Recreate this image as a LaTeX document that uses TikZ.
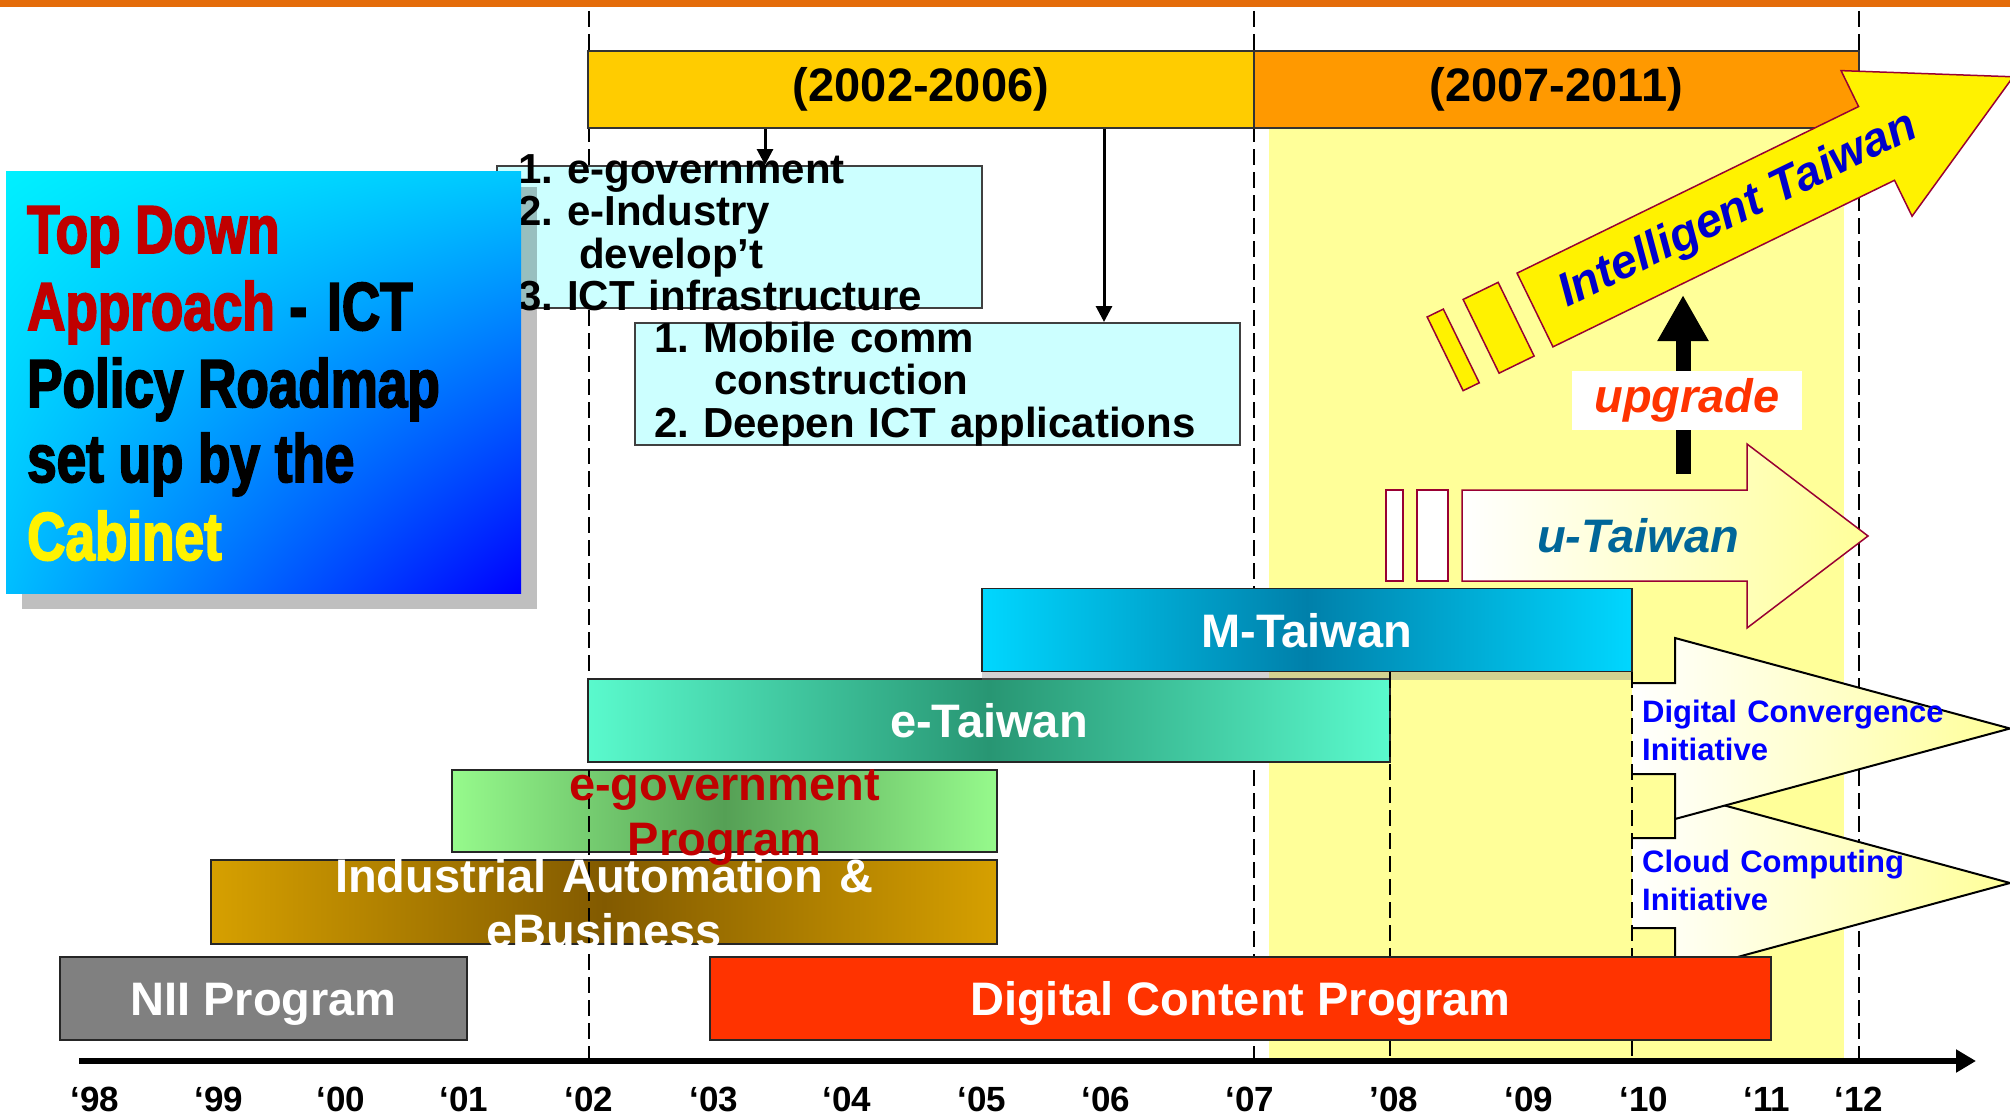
\documentclass[tikz,border=0pt]{standalone}
\usepackage{fontspec}
\setmainfont{Liberation Sans}
\newfontfamily\headfont[FakeStretch=0.78,BoldFeatures={FakeBold=2.5}]{Liberation Sans}
\usepackage{tikz}
\usetikzlibrary{calc,positioning,shapes,arrows.meta,shadows,shadings}

\definecolor{topbar}{RGB}{228,108,10}
\definecolor{paleyel}{RGB}{255,255,153}
\definecolor{goldbar}{RGB}{255,204,0}
\definecolor{orngbar}{RGB}{255,153,0}
\definecolor{boxcyan}{RGB}{204,255,255}
\definecolor{dred}{RGB}{192,0,0}
\definecolor{wine}{RGB}{153,0,51}
\definecolor{mcyan}{RGB}{0,215,255}
\definecolor{mdark}{RGB}{0,128,170}
\definecolor{eaqua}{RGB}{90,250,205}
\definecolor{edark}{RGB}{40,150,115}
\definecolor{glight}{RGB}{150,250,140}
\definecolor{gdark}{RGB}{85,160,85}
\definecolor{ochre}{RGB}{214,160,0}
\definecolor{iabrown}{RGB}{130,90,0}
\definecolor{dcred}{RGB}{255,51,0}
\definecolor{utblue}{RGB}{0,102,153}
\definecolor{itblue}{RGB}{0,0,204}
\definecolor{tlcyan}{RGB}{0,240,255}
\definecolor{trcyan}{RGB}{0,200,255}
\definecolor{blcyan}{RGB}{0,190,255}
\definecolor{brblue}{RGB}{0,0,255}

\tikzset{
  period/.style={draw=black!80, line width=1.2pt, inner sep=0pt, minimum height=77pt,
    font=\fontsize{47}{54}\selectfont\bfseries},
  listbox/.style={draw=black!75, line width=2pt, fill=boxcyan, inner sep=0pt},
  listtxt/.style={inner sep=0pt, anchor=base west, align=left, text width=600pt,
    font=\fontsize{42}{42.5}\selectfont\bfseries\frenchspacing},
  bar/.style={draw=black!85, line width=1.5pt, inner sep=0pt, minimum height=83pt,
    text=white, text height=34pt, text depth=0pt, font=\fontsize{47}{50}\selectfont\bfseries},
  bartxt/.style={inner sep=0pt, anchor=base, align=center, text width=700pt,
    font=\fontsize{47}{55}\selectfont\bfseries},
  heavy/.style={inner sep=0pt, anchor=base west, font=\headfont\fontsize{68}{77}\selectfont\bfseries},
  initxt/.style={inner sep=0pt, anchor=base west, align=left, text width=400pt, text=blue,
    font=\fontsize{31}{38}\selectfont\bfseries},
  yr/.style={inner sep=0pt, anchor=base, font=\fontsize{35}{40}\selectfont\bfseries},
  vline/.style={black, line width=1.6pt, dash pattern=on 16pt off 7pt},
  feed/.style={line width=3pt, -{Triangle[width=16pt,length=16pt]}},
  slant/.style={font=\fontsize{47}{50}\selectfont\bfseries\itshape, inner sep=0pt},
}

\begin{document}
\begin{tikzpicture}[x=1pt,y=-1pt]
  \fill[white] (0,0) rectangle (2010,1116);
  \useasboundingbox (0,0) rectangle (2010,1116);
  \fill[topbar] (0,0) rectangle (2010,7);
  \fill[paleyel] (1269,128) rectangle (1844,1061);

  \node[bar, left color=glight, right color=glight, middle color=gdark, minimum width=545pt, minimum height=82pt] (egp) at (724.5,811) {};
  \node[bar, left color=ochre, right color=ochre, middle color=iabrown, minimum width=786pt, minimum height=84pt] (iae) at (604,902) {};

  \coordinate (v02) at (589,11);
  \coordinate (v07) at (1254,11);
  \coordinate (v12) at (1859,11);
  \coordinate (axL) at (79,1061);
  \coordinate (axR) at (1976,1061);
  \foreach \v in {v02,v07,v12}
    \draw[vline] (\v) -- (\v |- axL);

  \node[period, fill=goldbar, minimum width=666pt] (pA) at (921,89.5) {(2002-2006)};
  \node[period, fill=orngbar, minimum width=605pt] (pB) at (1556.5,89.5) {(2007-2011)};

  \node[listbox, minimum width=485pt, minimum height=142pt] (boxA) at (739.5,237) {};
  \node[listtxt] (boxAtxt) at (518,183) {1. e-government\\2. e-Industry\\\hspace*{61pt}develop’t\\3. ICT infrastructure};
  \node[listbox, minimum width=605pt, minimum height=122pt] (boxB) at (937.5,384) {};
  \node[listtxt] (boxBtxt) at (654,352) {1. Mobile comm\\\hspace*{60pt}construction\\2. Deepen ICT applications};
  \coordinate (fA) at (765,0);
  \coordinate (fB) at (1104,0);
  \draw[feed] (fA |- pA.south) -- (fA |- boxA.north);
  \draw[feed] (fB |- pA.south) -- (fB |- boxB.north);

  \fill[black, opacity=.25] (22,187) rectangle (537,609);
  \shade[upper left=tlcyan, upper right=trcyan, lower left=blcyan, lower right=brblue] (6,171) rectangle (521,593);
  \node[heavy, text=dred] (hdA) at (27,253) {Top Down};
  \node[heavy] (hdB) at (27,330) {\textcolor{dred}{Approach}\ -\hspace{20pt}ICT};
  \node[heavy] (hdC) at (27,407) {Policy Roadmap};
  \node[heavy] (hdD) at (27,482) {set up by the};
  \node[heavy, text=yellow] (hdE) at (27,560) {Cabinet};

  \node[bar, left color=eaqua, right color=eaqua, middle color=edark, minimum width=802pt] (eTw) at (989,720.5) {e-Taiwan};
  \node[bar, left color=mcyan, right color=mcyan, middle color=mdark, minimum width=650pt,
    drop shadow={opacity=.35, shadow xshift=0pt, shadow yshift=-8pt}] (mTw) at (1307,630) {M-Taiwan};
  \node[bartxt, text=dred] (egptxt) at (724.5,800) {e-government\\Program};
  \node[bartxt, text=white] (iaetxt) at (604,892) {Industrial Automation \&\\eBusiness};

  \filldraw[fill=white, draw=wine, line width=1.5pt] (1386,490) rectangle (1403,581);
  \filldraw[fill=white, draw=wine, line width=1.5pt] (1417,490) rectangle (1448,581);
  \shadedraw[left color=white, right color=paleyel, draw=wine, line width=1.5pt]
    (1462,490) -- (1747,490) -- (1747,444) -- (1868,536) -- (1747,628) -- (1747,581) -- (1462,581) -- cycle;
  \node[slant, text=utblue] (uTw) at (1638,536) {u-Taiwan};

  \coordinate (upS) at (1683,474);
  \coordinate (upE) at (1683,295);
  \draw[line width=15pt, -{Triangle[width=48pt,length=46pt]}] (upS) -- (upE);

  \begin{scope}[shift={(1535,310)}, rotate=26]
    \filldraw[fill=yellow, draw=wine, line width=1.5pt] (-100,-41) -- (-82,-41) -- (-82,41) -- (-100,41) -- cycle;
    \filldraw[fill=yellow, draw=wine, line width=1.5pt] (-60,-41) -- (-21,-41) -- (-21,41) -- (-60,41) -- cycle;
    \filldraw[fill=yellow, draw=wine, line width=1.5pt]
      (0,-41) -- (380,-41) -- (380,-81) -- (532,0) -- (380,81) -- (380,41) -- (0,41) -- cycle;
    \node[slant, text=itblue, rotate=26] (inTw) at (226,0) {Intelligent Taiwan};
  \end{scope}
  \node[slant, fill=white, minimum width=230pt, minimum height=59pt, text=dcred] (upg) at (1687,400) {upgrade};

  \shade[left color=white, right color=paleyel]
    (1632,838) -- (1675,838) -- (1675,792) -- (2010,883) -- (1675,974) -- (1675,928) -- (1632,928) -- cycle;
  \draw[line width=2pt] (1632,838) -- (1675,838) -- (1675,792) -- (2010,883) -- (1675,974) -- (1675,928) -- (1632,928);
  \shade[left color=white, right color=paleyel]
    (1632,683) -- (1675,683) -- (1675,638) -- (2010,728.5) -- (1675,819) -- (1675,774) -- (1632,774) -- cycle;
  \draw[line width=2pt] (1632,683) -- (1675,683) -- (1675,638) -- (2010,728.5) -- (1675,819) -- (1675,774) -- (1632,774);
  \node[initxt] (dci) at (1642,722) {Digital Convergence\\Initiative};
  \node[initxt] (cci) at (1642,872) {Cloud Computing\\Initiative};

  \coordinate (v08) at (1390,672);
  \coordinate (v10) at (1632,672);
  \foreach \v in {v08,v10}
    \draw[vline] (\v) -- (\v |- axL);

  \node[bar, fill=gray, minimum width=407pt] (nii) at (263.5,998.5) {NII Program};
  \node[bar, fill=dcred, minimum width=1061pt] (dcp) at (1240.5,998.5) {Digital Content Program};

  \draw[line width=6pt, -{Triangle[width=22pt,length=20pt]}] (axL) -- (axR);
  \foreach \xx/\lab [count=\i] in {95/‘98,219/‘99,341/‘00,464/‘01,589/‘02,714/‘03,847/‘04,982/‘05,
      1106/‘06,1250/‘07,1394/’08,1529/‘09,1644/‘10,1767/‘11,1859/‘12}
    \node[yr] (yr\i) at (\xx,1111) {\lab};
\end{tikzpicture}
\end{document}
